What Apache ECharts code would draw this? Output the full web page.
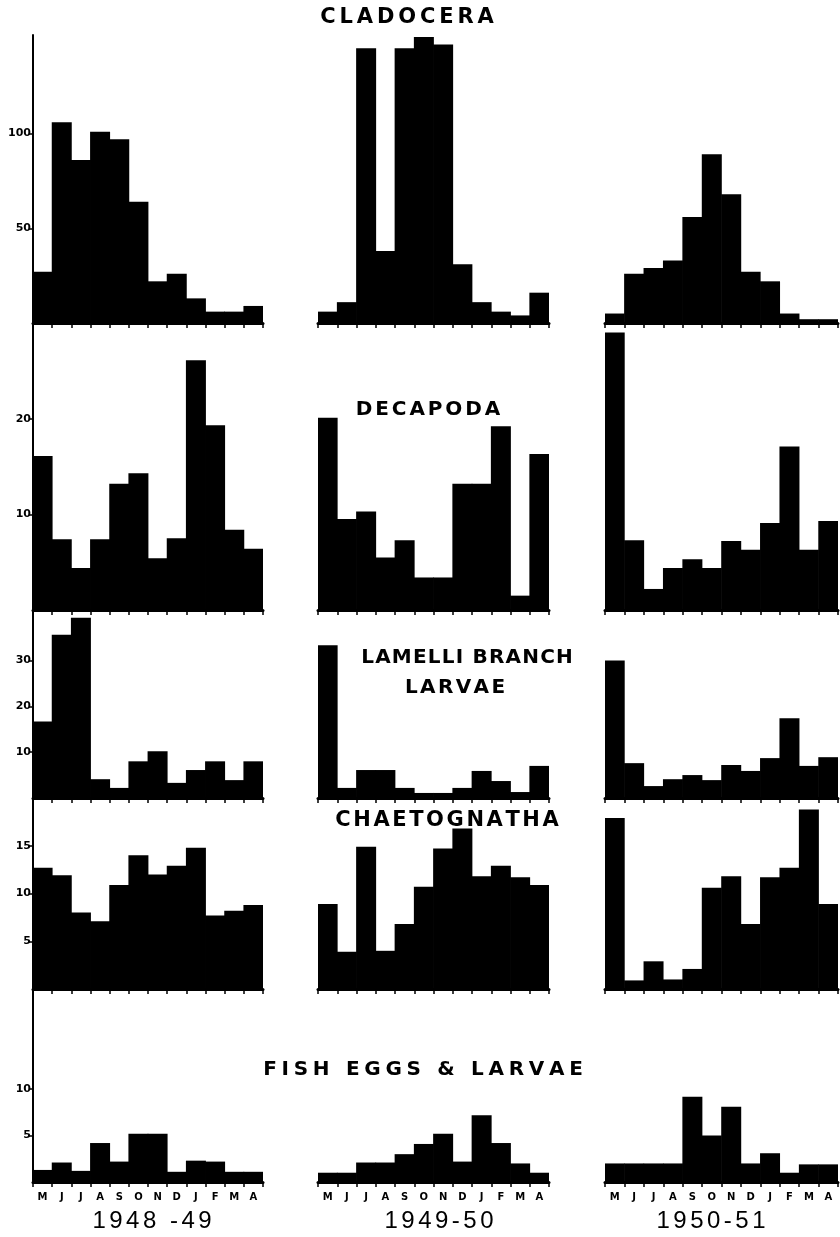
<!DOCTYPE html>
<html><head><meta charset="utf-8">
<script src="https://cdn.jsdelivr.net/npm/echarts@6.0.0/dist/echarts.min.js"></script>
<style>html,body{margin:0;padding:0;background:#fff}#c{width:840px;height:1237px}</style>
</head><body><div id="c"></div>
<script>
// ---- data ----
const months = ['M','J','J','A','S','O','N','D','J','F','M','A'];
const seasons = ['1948 -49','1949-50','1950-51'];
const titleLines = ['CLADOCERA','DECAPODA','LAMELLI BRANCH','LARVAE','CHAETOGNATHA','FISH EGGS & LARVAE'];

const cladocera1948 = [27,106,86,101,97,64,22,26,13,6,6,9];
const cladocera1949 = [6,11,145,38,145,151,147,31,11,6,4,16];
const cladocera1950 = [5,26,29,33,56,89,68,27,22,5,2,2];

const decapoda1948 = [16.1,7.4,4.4,7.4,13.2,14.3,5.4,7.5,26.1,19.3,8.4,6.4];
const decapoda1949 = [20.1,9.5,10.3,5.5,7.3,3.4,3.4,13.2,13.2,19.2,1.5,16.3];
const decapoda1950 = [29,7.3,2.2,4.4,5.3,4.4,7.2,6.3,9.1,17.1,6.3,9.3];

const lamelli1948 = [16.7,35.6,39.3,4.1,2.2,8.0,10.2,3.3,6.1,8.0,3.9,8.0];
const lamelli1949 = [33.3,2.2,6.1,6.1,2.2,1.1,1.1,2.2,5.9,3.7,1.3,7.0];
const lamelli1950 = [30,7.6,2.6,4.1,5.0,3.9,7.2,5.9,8.7,17.4,7.0,8.9];

const chaeto1948 = [12.7,11.9,8.0,7.1,10.9,14.0,12.0,12.9,14.8,7.7,8.2,8.8];
const chaeto1949 = [8.9,3.9,14.9,4.0,6.8,10.7,14.7,16.8,11.8,12.9,11.7,10.9];
const chaeto1950 = [17.9,0.9,2.9,1.0,2.1,10.6,11.8,6.8,11.7,12.7,18.8,8.9];

const fish1948 = [1.3,2.1,1.2,4.2,2.2,5.2,5.2,1.1,2.3,2.2,1.1,1.1];
const fish1949 = [1.0,1.0,2.1,2.1,3.0,4.1,5.2,2.2,7.2,4.2,2.0,1.0];
const fish1950 = [2.0,2.0,2.0,2.0,9.2,5.0,8.1,2.0,3.1,1.0,1.9,1.9];

const yTickValues = [[50,100],[10,20],[10,20,30],[5,10,15],[5,10]];
const yMax = [152, 30, 41, 20, 20.8];

const rows = [
  [cladocera1948, cladocera1949, cladocera1950],
  [decapoda1948, decapoda1949, decapoda1950],
  [lamelli1948, lamelli1949, lamelli1950],
  [chaeto1948, chaeto1949, chaeto1950],
  [fish1948, fish1949, fish1950]
];

// ---- layout ----
const colLeft = [33, 318, 605];
const colWidth = [230, 231, 233];
const rowTop = [35, 323, 610, 798, 989];
const rowBase = [323, 610, 798, 989, 1182];

const grid = [], xAxis = [], yAxis = [], series = [];
rows.forEach((rowData, r) => {
  rowData.forEach((vals, c) => {
    const i = grid.length;
    grid.push({left: colLeft[c], top: rowTop[r], width: colWidth[c], height: rowBase[r] - rowTop[r]});
    xAxis.push({
      type: 'category', gridIndex: i, data: months, boundaryGap: true,
      axisLine: {show: true, lineStyle: {color: '#000', width: 3}},
      axisTick: {show: true, interval: 0, length: 5, lineStyle: {color: '#000', width: 1.5}},
      axisLabel: {show: r === 4, interval: 0, fontSize: 10, fontWeight: 'bold',
        fontFamily: 'DejaVu Sans', color: '#000', margin: 10},
      splitLine: {show: false}
    });
    const ticks = yTickValues[r];
    yAxis.push({
      type: 'value', gridIndex: i, min: 0, max: yMax[r], show: c === 0,
      axisLine: {show: true, lineStyle: {color: '#000', width: 2}},
      axisTick: {show: true, customValues: ticks, length: 4, lineStyle: {color: '#000', width: 1.5}},
      axisLabel: {show: true, customValues: ticks, fontSize: 11, fontWeight: 'bold',
        fontFamily: 'DejaVu Sans', color: '#000', margin: 2,
        formatter: v => ticks.indexOf(v) >= 0 ? String(v) : ''},
      splitLine: {show: false}
    });
    series.push({
      type: 'bar', xAxisIndex: i, yAxisIndex: i, data: vals,
      barWidth: 20, silent: true,
      itemStyle: {color: '#000'}
    });
  });
});

// ---- letter-spaced text helper ----
const mctx = document.createElement('canvas').getContext('2d');
function spaced(str, cx, cy, font, sp) {
  mctx.font = font;
  const chars = [...str];
  const w = chars.map(ch => mctx.measureText(ch).width);
  const total = w.reduce((a, b) => a + b, 0) + sp * (chars.length - 1);
  let x = cx - total / 2;
  const out = [];
  chars.forEach((ch, k) => {
    if (ch !== ' ') out.push({type: 'text', silent: true,
      style: {text: ch, x: x, y: cy, font: font, fill: '#000', textAlign: 'left', textVerticalAlign: 'middle'}});
    x += w[k] + sp;
  });
  return out;
}

const titlePos = [[407,18,21,3.9],[428,410,20,2.9],[467,658,20,1.2],[455,688,20,2.4],[447,821,21,2.6],[423,1070,20,4.7]];
const seasonPos = [[152,1221],[439,1221],[711,1221]];
let graphic = [];
titleLines.forEach((t, k) => {
  const p = titlePos[k];
  graphic = graphic.concat(spaced(t, p[0], p[1], 'bold ' + p[2] + 'px "DejaVu Sans"', p[3]));
});
seasons.forEach((s, k) => {
  const p = seasonPos[k];
  graphic = graphic.concat(spaced(s, p[0], p[1], '24px "Liberation Sans"', 3.5));
});

const chart = echarts.init(document.getElementById('c'), null, {renderer: 'canvas'});
chart.setOption({animation: false, backgroundColor: '#fff', grid, xAxis, yAxis, series, graphic});
</script></body></html>
